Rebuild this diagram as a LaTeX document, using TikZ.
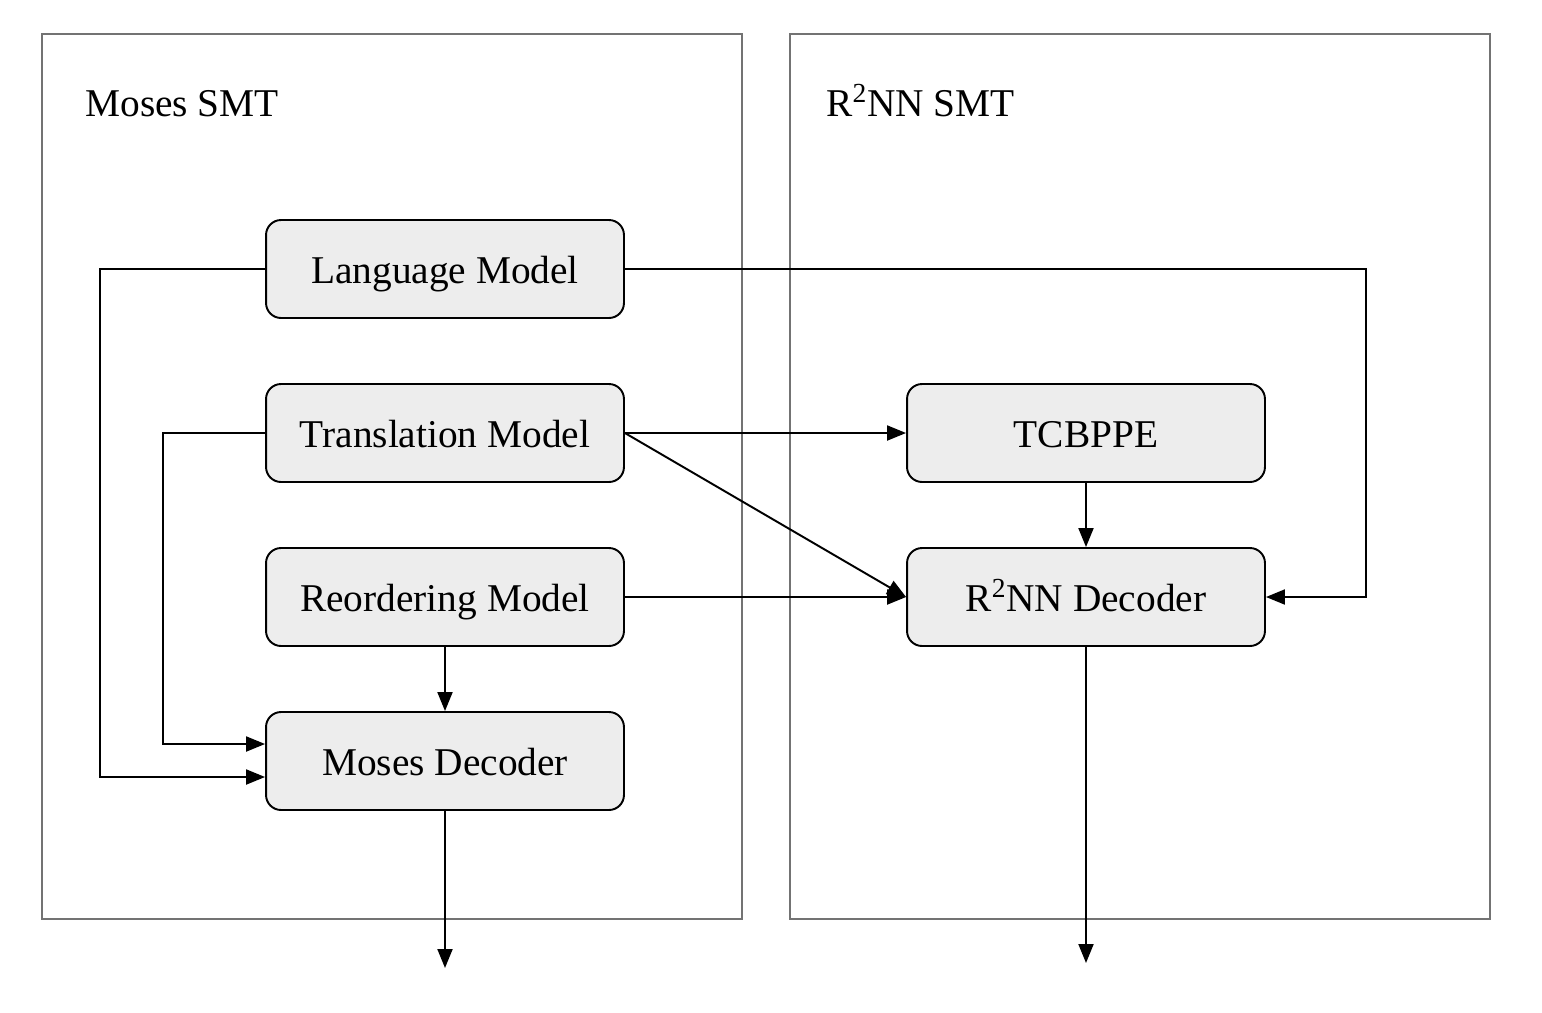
\documentclass[tikz,border=0pt]{standalone}
\usepackage{fontspec}
\setmainfont{Liberation Serif}
\usetikzlibrary{arrows.meta}

\begin{document}
\begin{tikzpicture}[
        x=0.02cm, y=-0.02cm,
        every node/.append style={font=\fontsize{22.4}{26}\selectfont},
        model/.style={draw, line width=1.1pt, fill=black!7, rounded corners=0.3cm,
            minimum width=7.16cm, minimum height=1.96cm, inner sep=0pt,
            text height=16pt, text depth=0pt},
        title/.style={anchor=base west, inner sep=0pt},
        link/.style={line width=1.1pt, -{Triangle[length=0.38cm, width=0.3cm]}}
    ]
        \useasboundingbox (0,0) rectangle (1542,1012);
        \draw[line width=1.1pt, black!55] (42,34) rectangle (742,919);
        \draw[line width=1.1pt, black!55] (790,34) rectangle (1490,919);
        \node[title] (MT) at (85,116) {Moses SMT};
        \node[title] (RT) at (826,116) {R\textsuperscript{2}NN SMT};
        \node[model] (LM) at (445,269) {Language Model};
        \node[model] (TM) at (445,433) {Translation Model};
        \node[model] (RM) at (445,597) {Reordering Model};
        \node[model] (MD) at (445,761) {Moses Decoder};
        \node[model] (TC) at (1086,433) {TCBPPE};
        \node[model] (RD) at (1086,597) {R\textsuperscript{2}NN Decoder};
        \coordinate (MO) at (445,968);
        \coordinate (RO) at (1086,963);
        \draw[link] (LM.west) -- (100,269) -- (100,777) -- (MD.west |- 0,777);
        \draw[link] (TM.west) -- (163,433) -- (163,744) -- (MD.west |- 0,744);
        \draw[link] (RM) -- (MD);
        \draw[link] (MD) -- (MO);
        \draw[link] (TM.east) -- (TC.west);
        \draw[link] (TM.east) -- (RD.west);
        \draw[link] (RM.east) -- (RD.west);
        \draw[link] (LM.east) -- (1366,269) -- (1366,597) -- (RD.east);
        \draw[link] (TC) -- (RD);
        \draw[link] (RD) -- (RO);
    \end{tikzpicture}
\end{document}
